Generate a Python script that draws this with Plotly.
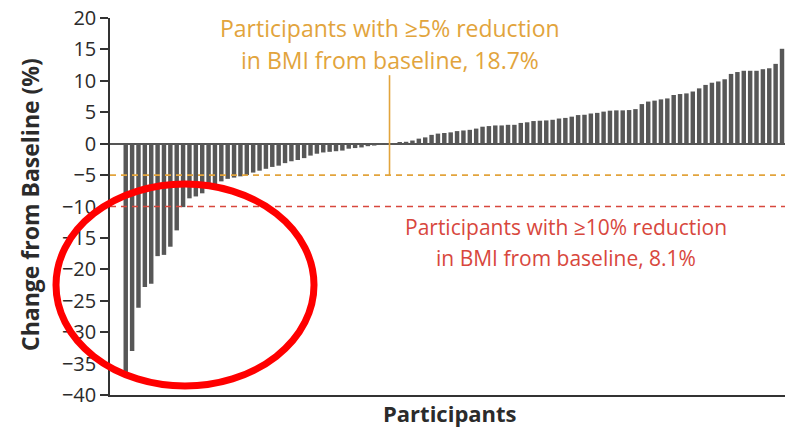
import plotly.graph_objects as go

# Change from baseline in BMI (%) per participant, sorted
change_pct = [
    -36.5, -33.0, -26.1, -22.8, -22.3, -17.9, -17.7, -16.4, -13.8, -10.1,
    -8.7, -8.4, -7.9, -7.2, -6.5, -6.0, -5.6, -5.4, -5.2, -5.0,
    -4.6, -4.3, -4.0, -3.7, -3.5, -3.1, -2.8, -2.6, -2.3, -1.9,
    -1.6, -1.4, -1.3, -1.2, -1.1, -0.8, -0.7, -0.6, -0.4, -0.3,
    -0.2, -0.1, 0.1, 0.2, 0.3, 0.5, 0.8, 1.0, 1.4, 1.6,
    1.7, 1.8, 2.0, 2.1, 2.2, 2.4, 2.7, 2.8, 2.9, 2.9,
    3.0, 3.0, 3.3, 3.4, 3.6, 3.65, 3.7, 3.8, 4.0, 4.1,
    4.3, 4.55, 4.6, 4.8, 4.9, 5.1, 5.25, 5.3, 5.3, 5.35,
    5.5, 6.3, 6.7, 6.85, 7.05, 7.2, 7.75, 7.9, 8.0, 8.3,
    8.8, 9.35, 9.7, 9.9, 10.25, 11.1, 11.4, 11.6, 11.6, 11.6,
    11.85, 12.0, 12.7, 15.1,
]
participants = list(range(len(change_pct)))
y_ticks = [-40, -35, -30, -25, -20, -15, -10, -5, 0, 5, 10, 15, 20]
threshold_5 = -5
threshold_10 = -10
orange = "#E2A43C"
red = "#D8473D"
font_family = "Open Sans"

fig = go.Figure()
fig.add_trace(go.Bar(
    x=participants, y=change_pct,
    marker=dict(color="#575757", line=dict(width=0)),
    width=0.7, hoverinfo="y",
))

n = len(change_pct)
fig.update_layout(
    width=796, height=434,
    margin=dict(l=110, r=11, t=18, b=39, autoexpand=False),
    paper_bgcolor="white", plot_bgcolor="white",
    showlegend=False,
    font=dict(family=font_family, color="#333333"),
    xaxis=dict(
        range=[-2.47, n - 0.53], showgrid=False, zeroline=False,
        showticklabels=False, ticks="", showline=True, automargin=False,
        linecolor="#333333", linewidth=1.5,
    ),
    yaxis=dict(
        range=[-40, 20], tickvals=y_ticks, showgrid=False, automargin=False,
        zeroline=True, zerolinecolor="#555555", zerolinewidth=1.5,
        showline=True, linecolor="#333333", linewidth=1.5,
        ticks="outside", ticklen=8, tickwidth=1.5, tickcolor="#333333",
        tickfont=dict(size=20, color="#2b2b2b", family=font_family),
    ),
)

# threshold dashed lines
fig.add_shape(type="line", xref="paper", yref="y", x0=0, x1=1,
              y0=threshold_5, y1=threshold_5,
              line=dict(color=orange, width=1.6, dash="6px,5px"))
fig.add_shape(type="line", xref="paper", yref="y", x0=0, x1=1,
              y0=threshold_10, y1=threshold_10,
              line=dict(color=red, width=1.6, dash="6px,5px"))
# orange leader line
fig.add_shape(type="line", xref="x", yref="y", x0=41.4, x1=41.4,
              y0=threshold_5, y1=10.9,
              line=dict(color=orange, width=1.6))

# annotations text
def ann(text, x, y, color, size=22, bold=False, angle=0):
    fig.add_annotation(
        text=f"<b>{text}</b>" if bold else text,
        xref="paper", yref="paper", x=x, y=y,
        showarrow=False, textangle=angle,
        font=dict(size=size, color=color, family=font_family),
        xanchor="center", yanchor="middle",
    )

def px_x(p):
    return (p - 110) / 675

def px_y(p):
    return (395 - p) / 377

ann("Participants with ≥5% reduction", px_x(390), px_y(28), orange, size=23)
ann("in BMI from baseline, 18.7%", px_x(390), px_y(60), orange, size=23)
ann("Participants with ≥10% reduction", px_x(566), px_y(227), red, size=21)
ann("in BMI from baseline, 8.1%", px_x(566), px_y(258), red, size=21)
ann("Participants", px_x(450), px_y(413), "#2b2b2b", size=22, bold=True)
ann("Change from Baseline (%)", px_x(30), px_y(205), "#2b2b2b", size=23, bold=True, angle=-90)

# red highlight ellipse
fig.add_shape(type="circle", xref="paper", yref="paper",
              x0=px_x(56), x1=px_x(314), y0=px_y(386), y1=px_y(184),
              line=dict(color="#FF0000", width=7))

fig.write_html("out.html", config={"displayModeBar": False},
               post_script="document.body.style.margin='0px';")
